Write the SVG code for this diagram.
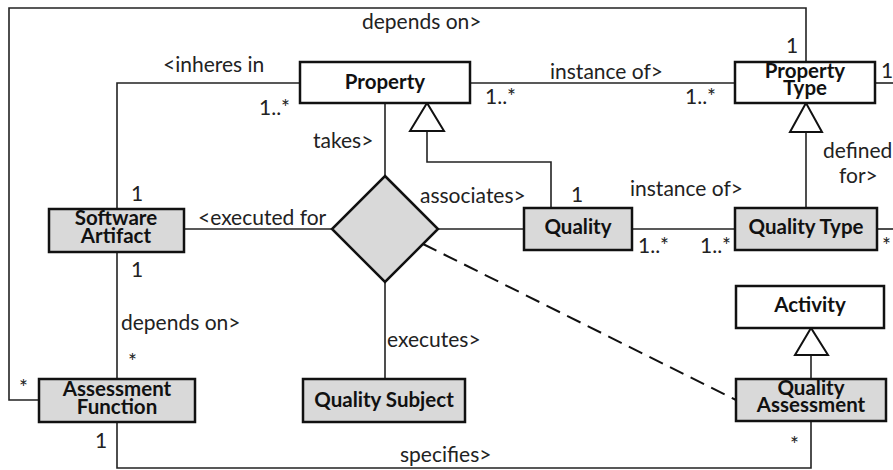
<svg xmlns="http://www.w3.org/2000/svg" width="893" height="470" viewBox="0 0 893 470">
  <style>
    .box { stroke: #111; stroke-width: 2.5; }
    .plain { fill: #fff; }
    .shade { fill: #d9d9d9; }
    .line { fill: none; stroke: #222; stroke-width: 1.6; }
    .dash { fill: none; stroke: #111; stroke-width: 2; stroke-dasharray: 15 8; }
    .tri { fill: #fff; stroke: #111; stroke-width: 2; }
    .lbl { font-family: Lato, "Liberation Sans", sans-serif; font-size: 21px; fill: #222; }
    .name { font-family: Lato, "Liberation Sans", sans-serif; font-size: 20.5px; font-weight: bold; fill: #111; text-anchor: middle; }
  </style>
  <rect width="893" height="470" fill="#fff"/>

  <g id="connectors">
    <polyline class="line" points="39,400 9,400 9,8 806,8 806,62"/>
    <polyline class="line" points="300,83 117,83 117,209"/>
    <line class="line" x1="470" y1="83" x2="735" y2="83"/>
    <line class="line" x1="875" y1="83" x2="893" y2="83"/>
    <line class="line" x1="385" y1="103" x2="385" y2="176"/>
    <polyline class="line" points="427,131 427,162 551,162 551,208"/>
    <polygon class="tri" points="427,103 410,131 444,131"/>
    <line class="line" x1="806" y1="132" x2="806" y2="208"/>
    <polygon class="tri" points="806,103 790,132 822,132"/>
    <line class="line" x1="184" y1="229" x2="332" y2="229"/>
    <line class="line" x1="437" y1="229" x2="524" y2="229"/>
    <line class="line" x1="632" y1="229" x2="735" y2="229"/>
    <line class="line" x1="877" y1="229" x2="893" y2="229"/>
    <line class="line" x1="385" y1="282" x2="385" y2="379"/>
    <line class="line" x1="117" y1="252" x2="117" y2="379"/>
    <polyline class="line" points="117,422 117,468 811,468 811,421"/>
    <line class="line" x1="811" y1="355" x2="811" y2="379"/>
    <polygon class="tri" points="811,328 795,355 828,355"/>
    <line class="dash" x1="423" y1="244" x2="736" y2="400"/>

    <text class="lbl" x="362" y="29">depends on&gt;</text>
    <text class="lbl" x="163" y="72">&lt;inheres in</text>
    <text class="lbl" x="259" y="115">1..*</text>
    <text class="lbl" x="313" y="148">takes&gt;</text>
    <text class="lbl" x="550" y="79">instance of&gt;</text>
    <text class="lbl" x="485" y="104">1..*</text>
    <text class="lbl" x="685" y="104">1..*</text>
    <text class="lbl" x="786" y="53">1</text>
    <text class="lbl" x="881" y="78">1</text>
    <text class="lbl" x="823" y="158">defined</text>
    <text class="lbl" x="839" y="183">for&gt;</text>
    <text class="lbl" x="571" y="202">1</text>
    <text class="lbl" x="420" y="203">associates&gt;</text>
    <text class="lbl" x="630" y="196">instance of&gt;</text>
    <text class="lbl" x="638" y="253">1..*</text>
    <text class="lbl" x="700" y="253">1..*</text>
    <text class="lbl" x="882" y="253">*</text>
    <text class="lbl" x="198" y="225">&lt;executed for</text>
    <text class="lbl" x="131" y="201">1</text>
    <text class="lbl" x="131" y="277">1</text>
    <text class="lbl" x="121" y="330">depends on&gt;</text>
    <text class="lbl" x="128" y="369">*</text>
    <text class="lbl" x="19" y="395">*</text>
    <text class="lbl" x="95" y="448">1</text>
    <text class="lbl" x="387" y="347">executes&gt;</text>
    <text class="lbl" x="400" y="462">specifies&gt;</text>
    <text class="lbl" x="790" y="452">*</text>
  </g>

  <g id="property">
    <rect class="box plain" x="300" y="62" width="170" height="41"/>
    <text class="name" x="385" y="89">Property</text>
  </g>
  <g id="property-type">
    <rect class="box plain" x="735" y="62" width="140" height="41"/>
    <text class="name" x="805" y="78">Property</text>
    <text class="name" x="805" y="95">Type</text>
  </g>
  <g id="software-artifact">
    <rect class="box shade" x="49" y="209" width="135" height="43"/>
    <text class="name" x="116" y="225">Software</text>
    <text class="name" x="116" y="243">Artifact</text>
  </g>
  <g id="association">
    <polygon class="box shade" points="385,176 438,229 385,282 332,229"/>
  </g>
  <g id="quality">
    <rect class="box shade" x="524" y="208" width="108" height="42"/>
    <text class="name" x="578" y="234">Quality</text>
  </g>
  <g id="quality-type">
    <rect class="box shade" x="735" y="208" width="142" height="42"/>
    <text class="name" x="806" y="234">Quality Type</text>
  </g>
  <g id="activity">
    <rect class="box plain" x="736" y="286" width="148" height="42"/>
    <text class="name" x="810" y="312">Activity</text>
  </g>
  <g id="assessment-function">
    <rect class="box shade" x="39" y="379" width="156" height="43"/>
    <text class="name" x="117" y="396">Assessment</text>
    <text class="name" x="117" y="414">Function</text>
  </g>
  <g id="quality-subject">
    <rect class="box shade" x="303" y="379" width="162" height="43"/>
    <text class="name" x="384" y="407">Quality Subject</text>
  </g>
  <g id="quality-assessment">
    <rect class="box shade" x="736" y="379" width="150" height="42"/>
    <text class="name" x="811" y="395">Quality</text>
    <text class="name" x="811" y="412">Assessment</text>
  </g>
</svg>
